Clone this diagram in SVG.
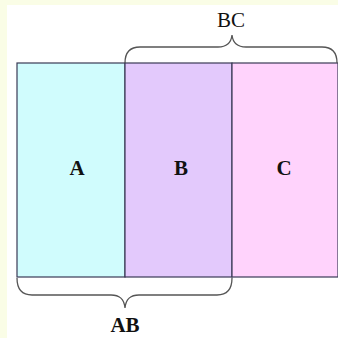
<svg xmlns="http://www.w3.org/2000/svg" width="338" height="338" viewBox="0 0 338 338">
<style>
.cell{stroke:#3a3a55;stroke-width:1.2}
.brace{fill:none;stroke:#555;stroke-width:1.3}
.lbl{font-family:"Liberation Serif","Times New Roman",serif;font-size:21px;fill:#111;text-anchor:middle}
.b{font-weight:bold}
</style>
<rect x="0" y="0" width="338" height="338" fill="#fafde6"/>
<rect x="7" y="5" width="331" height="333" fill="#ffffff"/>
<g id="A"><rect class="cell" x="17" y="63" width="108" height="214" fill="#d0fcfd"/><text class="lbl b" x="77" y="175">A</text></g>
<g id="B"><rect class="cell" x="125" y="63" width="107" height="214" fill="#e3c9fc"/><text class="lbl b" x="181" y="175">B</text></g>
<g id="C"><rect class="cell" x="232" y="63" width="106" height="214" fill="#ffd3fc"/><text class="lbl b" x="284" y="175">C</text></g>
<g id="connectors">
<path class="brace" d="M125,63 C125,52 130,47 140,47 L218,47 C226,47 231,44 232,35 C233,44 238,47 246,47 L322,47 C332,47 337,52 337,63"/>
<path class="brace" d="M17,278 C17,289 22,295 32,295 L111,295 C119,295 124,298 125,308 C126,298 131,295 139,295 L217,295 C227,295 232,289 232,278"/>
</g>
<g id="BC"><text class="lbl" x="231" y="27">BC</text></g>
<g id="AB"><text class="lbl b" x="125" y="332">AB</text></g>
</svg>
